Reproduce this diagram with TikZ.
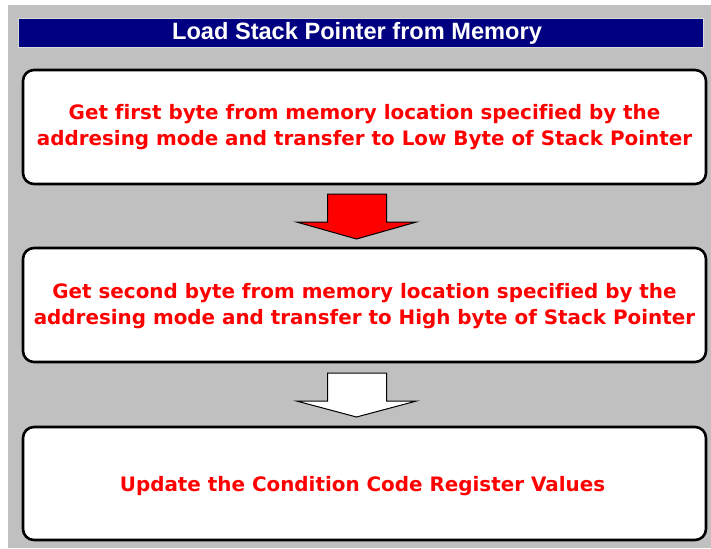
\documentclass[tikz,border=0pt]{standalone}
\usepackage{fontspec}
\setmainfont{Liberation Sans}
\newfontfamily\stepfont[Ligatures=NoCommon]{DejaVu Sans}
\definecolor{panelgray}{HTML}{C0C0C0}
\definecolor{titleblue}{HTML}{000080}
\definecolor{steptext}{HTML}{FF0000}
\tikzset{
  stepbox/.style={draw=black, line width=2.6pt, fill=white, rounded corners=11pt},
  steplabel/.style={text=steptext, font=\stepfont\bfseries\fontsize{19.9}{25.5}\selectfont, align=center},
  blockarrow/.style={draw=black, line width=1pt, line join=miter}
}
\begin{document}
\begin{tikzpicture}[x=1pt,y=-1pt]
  \useasboundingbox (0,0) rectangle (711,548);
  \fill[white] (0,0) rectangle (711,548);
  % window panel
  \fill[panelgray] (8,5) rectangle (711,548);
  % title bar
  \draw[fill=titleblue, draw=white!85!black, line width=1pt] (18,18.5) rectangle (703,48);
  \node[text=white, font=\bfseries\fontsize{23.6}{26}\selectfont] (title) at (357,33) {Load Stack Pointer from Memory};
  % step boxes
  \draw[stepbox] (23,70) rectangle (706,184);
  \node[steplabel] (box1) at (364.5,127) {Get first byte from memory location specified by the\\addresing mode and transfer to Low Byte of Stack Pointer};
  \draw[stepbox] (23,248) rectangle (706,362);
  \node[steplabel] (box2) at (364.5,306) {Get second byte from memory location specified by the\\addresing mode and transfer to High byte of Stack Pointer};
  \draw[stepbox] (23,427) rectangle (706,540);
  \node[steplabel] (box3) at (362.5,486) {Update the Condition Code Register Values};
  % arrow anchors
  \coordinate (a1) at (357,194);
  \coordinate (a2) at (357,373);
  % block arrows between the steps
  \draw[blockarrow, fill=red] (a1) ++(-29.5,0) -- ++(59,0) -- ++(0,28) -- ++(30,0) -- ++(-60,17) -- ++(-60,-17) -- ++(31,0) -- cycle;
  \draw[blockarrow, fill=white] (a2) ++(-29.5,0) -- ++(59,0) -- ++(0,28) -- ++(30,0) -- ++(-60,16) -- ++(-60,-16) -- ++(31,0) -- cycle;
\end{tikzpicture}
\end{document}
